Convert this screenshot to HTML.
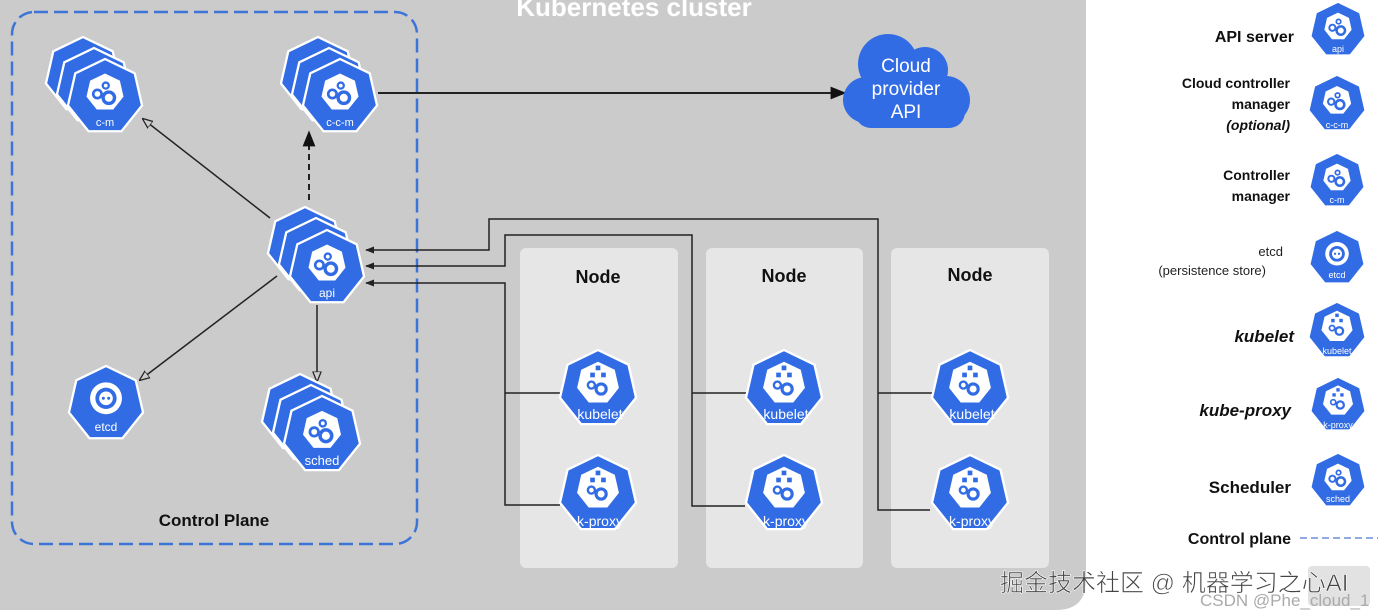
<!DOCTYPE html>
<html><head><meta charset="utf-8"><style>
html,body{margin:0;padding:0;background:#fff;}
svg{display:block;}
text{font-family:"Liberation Sans","Noto Sans CJK SC",sans-serif;}
</style></head><body>
<svg width="1378" height="616" viewBox="0 0 1378 616" xmlns="http://www.w3.org/2000/svg">
<defs>
  <polygon id="hp" points="0,-1 0.782,-0.623 0.975,0.223 0.434,0.901 -0.434,0.901 -0.975,0.223 -0.782,-0.623"/>
  <g id="outer"><use href="#hp" fill="#326ce5" stroke="#fff" stroke-width="0.06"/></g>
  <g id="gearin">
    <use href="#hp" transform="translate(0,-0.12) scale(0.5)" fill="#fff"/>
    <circle cx="-0.2" cy="-0.08" r="0.11" fill="none" stroke="#326ce5" stroke-width="0.07"/>
    <circle cx="0.1" cy="0.02" r="0.15" fill="none" stroke="#326ce5" stroke-width="0.09"/>
    <circle cx="0.02" cy="-0.3" r="0.08" fill="none" stroke="#326ce5" stroke-width="0.06"/>
  </g>
  <g id="icon"><use href="#outer"/><use href="#gearin"/></g>
  <g id="nodeicon">
    <use href="#outer"/>
    <use href="#hp" transform="translate(0,-0.15) scale(0.55)" fill="#fff"/>
    <rect x="-0.06" y="-0.6" width="0.12" height="0.12" fill="#326ce5"/>
    <rect x="-0.2" y="-0.42" width="0.12" height="0.12" fill="#326ce5"/>
    <rect x="0.08" y="-0.42" width="0.12" height="0.12" fill="#326ce5"/>
    <circle cx="-0.17" cy="-0.1" r="0.09" fill="none" stroke="#326ce5" stroke-width="0.06"/>
    <circle cx="0.08" cy="0.0" r="0.13" fill="none" stroke="#326ce5" stroke-width="0.08"/>
  </g>
  <g id="etcdicon">
    <use href="#outer"/>
    <circle cx="0" cy="-0.15" r="0.42" fill="#fff"/>
    <circle cx="0" cy="-0.15" r="0.28" fill="#326ce5"/>
    <circle cx="0" cy="-0.15" r="0.18" fill="#fff"/>
    <circle cx="-0.07" cy="-0.15" r="0.04" fill="#326ce5"/>
    <circle cx="0.07" cy="-0.15" r="0.04" fill="#326ce5"/>
  </g>
  <marker id="af" viewBox="0 0 10 10" refX="9" refY="5" markerWidth="8" markerHeight="8" orient="auto-start-reverse"><path d="M0,1 L10,5 L0,9 z" fill="#111"/></marker>
  <marker id="ao" viewBox="0 0 10 10" refX="9" refY="5" markerWidth="7" markerHeight="7" orient="auto-start-reverse"><path d="M0,1 L10,5 L0,9 z" fill="#ccc" stroke="#222" stroke-width="1.2"/></marker>
  <marker id="as" viewBox="0 0 10 10" refX="9" refY="5" markerWidth="6" markerHeight="6" orient="auto-start-reverse"><path d="M0,1 L10,5 L0,9 z" fill="#222"/></marker>
</defs>

<path d="M0,0 H1086 V580 Q1086,610 1056,610 H0 Z" fill="#cbcbcb"/>
<text x="634" y="16" font-size="26" font-weight="bold" fill="#fff" text-anchor="middle">Kubernetes cluster</text>

<rect x="12" y="12" width="405" height="532" rx="22" fill="none" stroke="#3d74d8" stroke-width="2.5" stroke-dasharray="14 6"/>
<text x="214" y="526" font-size="17" font-weight="bold" fill="#111" text-anchor="middle">Control Plane</text>

<rect x="520" y="248" width="158" height="320" rx="6" fill="#e6e6e6"/>
<rect x="706" y="248" width="157" height="320" rx="6" fill="#e6e6e6"/>
<rect x="891" y="248" width="158" height="320" rx="6" fill="#e6e6e6"/>
<text x="598" y="283" font-size="18" font-weight="bold" fill="#111" text-anchor="middle">Node</text>
<text x="784" y="282" font-size="18" font-weight="bold" fill="#111" text-anchor="middle">Node</text>
<text x="970" y="281" font-size="18" font-weight="bold" fill="#111" text-anchor="middle">Node</text>

<g fill="none" stroke="#222" stroke-width="1.5">
  <line x1="270" y1="218" x2="143" y2="119" marker-end="url(#ao)"/>
  <line x1="309" y1="200" x2="309" y2="132" stroke-dasharray="6 4" stroke-width="2" marker-end="url(#af)"/>
  <line x1="378" y1="93" x2="845" y2="93" stroke-width="2" marker-end="url(#af)"/>
  <line x1="277" y1="276" x2="140" y2="380" marker-end="url(#ao)"/>
  <line x1="317" y1="305" x2="317" y2="381" marker-end="url(#ao)"/>
  <polyline points="930,510 878,510 878,219 489,219 489,250 366,250" marker-end="url(#as)"/>
  <line x1="878" y1="393" x2="935" y2="393"/>
  <polyline points="745,506 692,506 692,235 505,235 505,266 366,266" marker-end="url(#as)"/>
  <line x1="692" y1="393" x2="748" y2="393"/>
  <polyline points="560,505 505,505 505,283 366,283" marker-end="url(#as)"/>
  <line x1="505" y1="393" x2="562" y2="393"/>
</g>

<g fill="#326ce5">
  <ellipse cx="905" cy="100" rx="60" ry="28"/>
  <circle cx="888" cy="64" r="30"/>
  <circle cx="925" cy="70" r="23"/>
  <circle cx="866" cy="100" r="23"/>
  <circle cx="946" cy="100" r="24"/>
  <rect x="855" y="92" width="110" height="36" rx="16"/>
</g>
<text x="906" y="72" font-size="19" fill="#fff" text-anchor="middle">Cloud</text>
<text x="906" y="95" font-size="19" fill="#fff" text-anchor="middle">provider</text>
<text x="906" y="118" font-size="19" fill="#fff" text-anchor="middle">API</text>

<use href="#outer" transform="translate(83,75) scale(38)"/>
<use href="#outer" transform="translate(94,86) scale(38)"/>
<use href="#icon" transform="translate(105,97) scale(38)"/>
<text x="105" y="126" font-size="11" fill="#fff" text-anchor="middle">c-m</text>
<use href="#outer" transform="translate(318,75) scale(38)"/>
<use href="#outer" transform="translate(329,86) scale(38)"/>
<use href="#icon" transform="translate(340,97) scale(38)"/>
<text x="340" y="126" font-size="11" fill="#fff" text-anchor="middle">c-c-m</text>
<use href="#outer" transform="translate(305,245) scale(38)"/>
<use href="#outer" transform="translate(316,256) scale(38)"/>
<use href="#icon" transform="translate(327,268) scale(38)"/>
<text x="327" y="297" font-size="12" fill="#fff" text-anchor="middle">api</text>
<use href="#etcdicon" transform="translate(106,404) scale(38)"/>
<text x="106" y="431" font-size="12" fill="#fff" text-anchor="middle">etcd</text>
<use href="#outer" transform="translate(300,413) scale(39)"/>
<use href="#outer" transform="translate(311,424) scale(39)"/>
<use href="#icon" transform="translate(322,435) scale(39)"/>
<text x="322" y="465" font-size="13" fill="#fff" text-anchor="middle">sched</text>

<use href="#nodeicon" transform="translate(598,389) scale(39)"/>
<use href="#nodeicon" transform="translate(784,389) scale(39)"/>
<use href="#nodeicon" transform="translate(970,389) scale(39)"/>
<use href="#nodeicon" transform="translate(598,494) scale(39)"/>
<use href="#nodeicon" transform="translate(784,494) scale(39)"/>
<use href="#nodeicon" transform="translate(970,494) scale(39)"/>
<g font-size="14" fill="#fff" text-anchor="middle">
<text x="600" y="419">kubelet</text><text x="786" y="419">kubelet</text><text x="972" y="419">kubelet</text>
<text x="600" y="526">k-proxy</text><text x="786" y="526">k-proxy</text><text x="972" y="526">k-proxy</text>
</g>

<g font-size="16" font-weight="bold" fill="#111" text-anchor="end">
<text x="1294" y="42">API server</text>
<text x="1290" y="88" font-size="14">Cloud controller</text>
<text x="1290" y="109" font-size="14">manager</text>
<text x="1290" y="130" font-size="14" font-style="italic">(optional)</text>
<text x="1290" y="180" font-size="14">Controller</text>
<text x="1290" y="201" font-size="14">manager</text>
<text x="1294" y="342" font-style="italic" font-size="17">kubelet</text>
<text x="1291" y="416" font-style="italic" font-size="17">kube-proxy</text>
<text x="1291" y="493" font-size="17">Scheduler</text>
<text x="1291" y="544" font-size="16">Control plane</text>
</g>
<text x="1283" y="256" font-size="13" fill="#222" text-anchor="end">etcd</text>
<text x="1266" y="275" font-size="13" fill="#222" text-anchor="end">(persistence store)</text>
<line x1="1300" y1="538" x2="1378" y2="538" stroke="#6d8fd8" stroke-width="1.5" stroke-dasharray="7 4"/>

<use href="#icon" transform="translate(1338,30) scale(28)"/>
<use href="#icon" transform="translate(1337,104) scale(29)"/>
<use href="#icon" transform="translate(1337,181) scale(28)"/>
<use href="#etcdicon" transform="translate(1337,258) scale(28)"/>
<use href="#nodeicon" transform="translate(1337,331) scale(29)"/>
<use href="#nodeicon" transform="translate(1338,405) scale(28)"/>
<use href="#icon" transform="translate(1338,481) scale(28)"/>
<g font-size="9" fill="#fff" text-anchor="middle">
<text x="1338" y="52">api</text><text x="1337" y="128">c-c-m</text><text x="1337" y="203">c-m</text>
<text x="1337" y="278">etcd</text><text x="1337" y="354">kubelet</text><text x="1338" y="428">k-proxy</text><text x="1338" y="502">sched</text>
</g>

<rect x="1308" y="566" width="62" height="40" rx="4" fill="#e2e2e2"/>
<text x="1000" y="591" font-size="24" fill="#444" stroke="#fff" stroke-width="0.6">掘金技术社区 @ 机器学习之心AI</text>
<text x="1200" y="606" font-size="17" fill="#aaa">CSDN @Phe_cloud_1</text>
</svg>
</body></html>
